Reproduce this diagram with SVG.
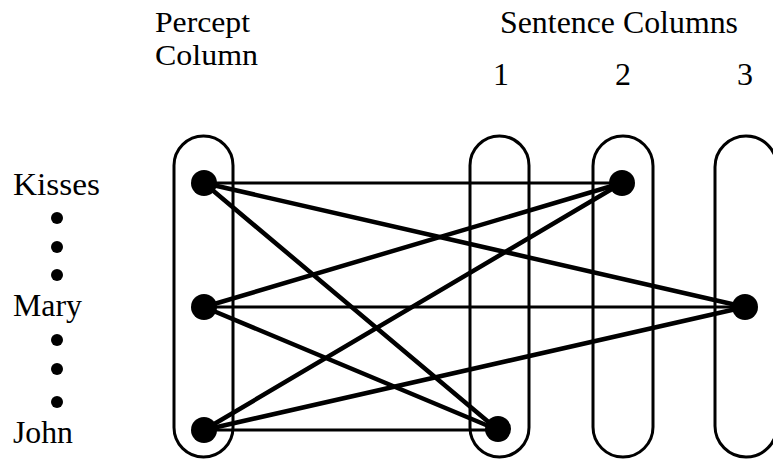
<svg xmlns="http://www.w3.org/2000/svg" width="773" height="460" viewBox="0 0 773 460">
<style>
  text { font-family: "Liberation Serif", "Times New Roman", serif; fill: #000; }
  .t { font-size: 32px; }
  .h { font-size: 29px; }
  .col { fill: none; stroke: #000; stroke-width: 3; }
  .node { fill: #000; }
  .thick { stroke: #000; stroke-width: 4.5; stroke-linecap: round; fill: none; }
  .thin { stroke: #000; stroke-width: 3; fill: none; }
  .dot { fill: #000; }
</style>
<rect width="773" height="460" fill="#fff"/>
<g id="labels">
  <text class="h" x="155" y="32" textLength="95" lengthAdjust="spacingAndGlyphs">Percept</text>
  <text class="h" x="155" y="65" textLength="103" lengthAdjust="spacingAndGlyphs">Column</text>
  <text class="t" x="500" y="33" textLength="238" lengthAdjust="spacingAndGlyphs">Sentence Columns</text>
  <text class="t" x="501" y="85" text-anchor="middle">1</text>
  <text class="t" x="623" y="85" text-anchor="middle">2</text>
  <text class="t" x="745" y="85" text-anchor="middle">3</text>
</g>
<g id="word-list">
  <text class="t" x="13" y="195" textLength="87" lengthAdjust="spacingAndGlyphs">Kisses</text>
  <circle class="dot" cx="57" cy="218" r="6"/>
  <circle class="dot" cx="57" cy="247" r="6"/>
  <circle class="dot" cx="57" cy="275" r="6"/>
  <text class="t" x="13" y="316" textLength="69" lengthAdjust="spacingAndGlyphs">Mary</text>
  <circle class="dot" cx="57" cy="340" r="6"/>
  <circle class="dot" cx="57" cy="369" r="6"/>
  <circle class="dot" cx="57" cy="402" r="6"/>
  <text class="t" x="13" y="443" textLength="60" lengthAdjust="spacingAndGlyphs">John</text>
</g>
<g id="columns">
  <rect id="percept-column" class="col" x="174" y="136" width="59" height="321" rx="29.5" ry="29.5"/>
  <rect id="sentence-column-1" class="col" x="470" y="136" width="59" height="321" rx="29.5" ry="29.5"/>
  <rect id="sentence-column-2" class="col" x="593" y="136" width="60" height="321" rx="30" ry="30"/>
  <rect id="sentence-column-3" class="col" x="715" y="136" width="62" height="321" rx="31" ry="31"/>
</g>
<g id="connectors">
  <line class="thin" x1="204" y1="183" x2="622" y2="183"/>
  <line class="thick" x1="204" y1="183" x2="745" y2="307"/>
  <line class="thick" x1="204" y1="183" x2="498" y2="430"/>
  <line class="thick" x1="204" y1="307" x2="622" y2="183"/>
  <line class="thin" x1="204" y1="307" x2="745" y2="307"/>
  <line class="thick" x1="204" y1="307" x2="498" y2="430"/>
  <line class="thick" x1="204" y1="430" x2="622" y2="183"/>
  <line class="thick" x1="204" y1="430" x2="745" y2="307"/>
  <line class="thin" x1="204" y1="430" x2="498" y2="430"/>
</g>
<g id="node-kisses"><circle class="node" cx="204" cy="183" r="13"/></g>
<g id="node-mary"><circle class="node" cx="204" cy="307" r="13"/></g>
<g id="node-john"><circle class="node" cx="204" cy="430" r="13"/></g>
<g id="node-s1"><circle class="node" cx="498" cy="429" r="13"/></g>
<g id="node-s2"><circle class="node" cx="622" cy="183" r="13"/></g>
<g id="node-s3"><circle class="node" cx="745" cy="307" r="13"/></g>
</svg>
